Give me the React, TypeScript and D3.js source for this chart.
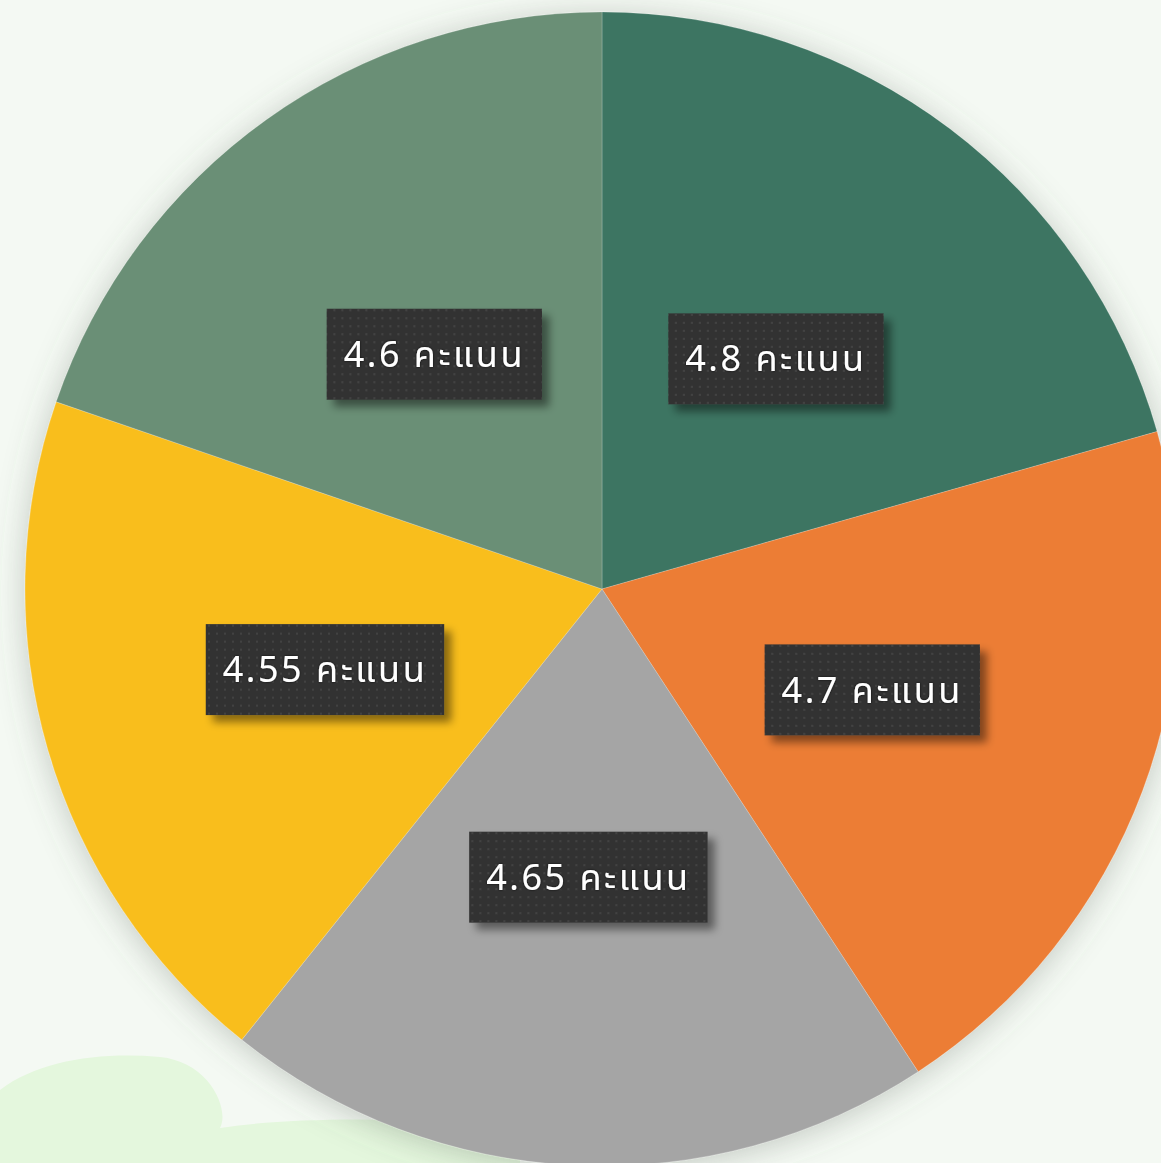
import React, { useRef, useEffect } from 'react';
import * as d3 from 'd3';

const categories = ['ข้อ 1', 'ข้อ 2', 'ข้อ 3', 'ข้อ 4', 'ข้อ 5'];
const scores = [4.8, 4.7, 4.65, 4.55, 4.6];
const sliceColors = ['#3d7562', '#ec7d35', '#a5a5a5', '#f9be1f', '#6b8f76'];
const unitLabel = 'คะแนน';

const W = 1161;
const H = 1163;

const App: React.FC = () => {
  const svgRef = useRef<SVGSVGElement>(null);

  useEffect(() => {
    if (!svgRef.current) return;
    const svg = d3.select(svgRef.current);
    svg.selectAll('*').remove();

    const cx = 602;
    const cy = 589;
    const radius = 577;

    const defs = svg.append('defs');
    const pieShadow = defs.append('filter').attr('id', 'pieShadow')
      .attr('x', '-20%').attr('y', '-20%').attr('width', '140%').attr('height', '140%');
    pieShadow.append('feDropShadow')
      .attr('dx', 0).attr('dy', 4).attr('stdDeviation', 16)
      .attr('flood-color', '#5a635a').attr('flood-opacity', 0.32);

    const boxShadow = defs.append('filter').attr('id', 'boxShadow')
      .attr('x', '-20%').attr('y', '-30%').attr('width', '150%').attr('height', '170%');
    boxShadow.append('feDropShadow')
      .attr('dx', 7).attr('dy', 7).attr('stdDeviation', 4)
      .attr('flood-color', '#000').attr('flood-opacity', 0.45);

    const textGlow = defs.append('filter').attr('id', 'textGlow');
    textGlow.append('feDropShadow')
      .attr('dx', 0).attr('dy', 0).attr('stdDeviation', 1)
      .attr('flood-color', '#000').attr('flood-opacity', 0.8);

    const pat = defs.append('pattern').attr('id', 'dots')
      .attr('width', 8).attr('height', 8).attr('patternUnits', 'userSpaceOnUse');
    pat.append('rect').attr('width', 8).attr('height', 8).attr('fill', '#333333');
    pat.append('circle').attr('cx', 4).attr('cy', 4).attr('r', 0.9).attr('fill', '#4a4a4a');

    // background
    svg.append('rect').attr('width', W).attr('height', H).attr('fill', '#f4f9f3');

    // decorative hills bottom-left
    svg.append('path')
      .attr('d', `M0,1090 C40,1060 100,1052 160,1057 C210,1062 230,1110 220,1128 C280,1118 420,1115 520,1130 L520,${H} L0,${H} Z`)
      .attr('fill', '#e4f7dd');

    const g = svg.append('g').attr('transform', `translate(${cx},${cy})`);

    const pie = d3.pie<number>().value(d => d).sort(null);
    const arcs = pie(scores);
    const arc = d3.arc<d3.PieArcDatum<number>>().innerRadius(0).outerRadius(radius);
    const labelArc = d3.arc<d3.PieArcDatum<number>>().innerRadius(radius * 0.5).outerRadius(radius * 0.5);

    const slices = g.append('g').attr('filter', 'url(#pieShadow)');
    slices.selectAll('path')
      .data(arcs)
      .enter()
      .append('path')
      .attr('d', arc)
      .attr('fill', (d, i) => sliceColors[i])
      .attr('stroke', 'rgba(255,255,255,0.25)')
      .attr('stroke-width', 0.8)
      .attr('data-cat', (d, i) => categories[i]);

    const labels = g.selectAll('.lbl')
      .data(arcs)
      .enter()
      .append('g')
      .attr('class', 'lbl')
      .attr('transform', d => {
        const [x, y] = labelArc.centroid(d);
        return `translate(${x},${y})`;
      });

    const rects = labels.append('rect')
      .attr('fill', 'url(#dots)')
      .attr('filter', 'url(#boxShadow)');

    const texts = labels.append('text')
      .attr('text-anchor', 'middle')
      .attr('dy', '0.35em')
      .attr('fill', '#ffffff')
      .attr('font-family', '"Noto Sans", "Noto Sans Thai", Tahoma, sans-serif')
      .attr('font-size', 36)
      .attr('letter-spacing', 2.5)
      .attr('filter', 'url(#textGlow)')
      .text(d => `${d.data} ${unitLabel}`);

    texts.each(function (d, i) {
      const w = (this as SVGTextElement).getComputedTextLength();
      const bw = w + 34;
      const bh = 91;
      d3.select(rects.nodes()[i])
        .attr('x', -bw / 2).attr('y', -bh / 2)
        .attr('width', bw).attr('height', bh);
    });
  }, []);

  return (
    <svg
      ref={svgRef}
      width={W}
      height={H}
      style={{ position: 'absolute', left: 0, top: 0, display: 'block' }}
    />
  );
};

export default App;
